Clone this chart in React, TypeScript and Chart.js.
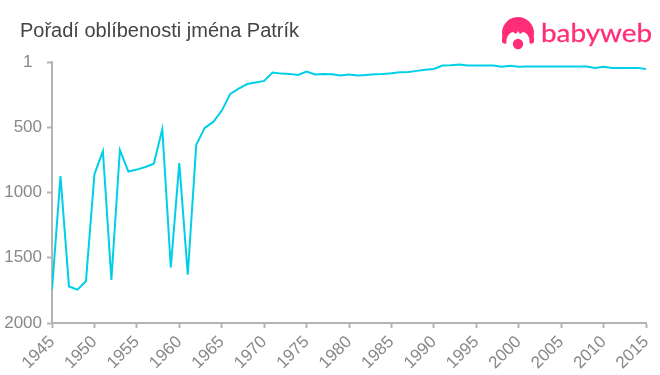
import React, { useEffect, useRef } from "react";
import { Chart, registerables } from "chart.js";

Chart.register(...registerables);

const titleText = "Pořadí oblíbenosti jména Patrík";
const years = [
  1945, 1946, 1947, 1948, 1949, 1950, 1951, 1952, 1953, 1954, 1955, 1956, 1957, 1958,
  1959, 1960, 1961, 1962, 1963, 1964, 1965, 1966, 1967, 1968, 1969, 1970, 1971, 1972,
  1973, 1974, 1975, 1976, 1977, 1978, 1979, 1980, 1981, 1982, 1983, 1984, 1985, 1986,
  1987, 1988, 1989, 1990, 1991, 1992, 1993, 1994, 1995, 1996, 1997, 1998, 1999, 2000,
  2001, 2002, 2003, 2004, 2005, 2006, 2007, 2008, 2009, 2010, 2011, 2012, 2013, 2014,
  2015,
];
const ranks = [
  1745, 875, 1720, 1745, 1680, 860, 685, 1670, 675, 840, 825, 805, 780, 515,
  1575, 775, 1630, 635, 505, 460, 375, 245, 205, 170, 158, 146, 82, 90,
  92, 100, 74, 97, 92, 95, 105, 97, 105, 100, 95, 92, 87, 79,
  77, 69, 61, 54, 28, 26, 20, 28, 28, 28, 28, 38, 30, 38,
  36, 36, 36, 36, 36, 36, 36, 36, 46, 38, 46, 46, 46, 46,
  54,
];
const yTicks = [1, 500, 1000, 1500, 2000];

export default function App() {
  const ref = useRef<HTMLCanvasElement>(null);
  useEffect(() => {
    document.body.style.margin = "0";
    const axisColor = "#b4b4b4";
    const tickFont = { family: "'Liberation Sans', Arial, sans-serif", size: 17 };
    const chart = new Chart(ref.current!, {
      type: "line",
      data: {
        datasets: [
          {
            data: years.map((x, i) => ({ x, y: ranks[i] })),
            borderColor: "#00cfe8",
            borderWidth: 2,
            pointRadius: 0,
            tension: 0,
            fill: false,
          },
        ],
      },
      options: {
        animation: false,
        responsive: false,
        layout: { padding: { top: 62, right: 14, left: 0, bottom: 0 } },
        plugins: { legend: { display: false }, title: { display: false }, tooltip: { enabled: false } },
        scales: {
          x: {
            type: "linear",
            min: 1945,
            max: 2015,
            afterFit: (s: any) => { s.height = 52; s.paddingRight = 0; s.paddingLeft = 0; },
            border: { color: axisColor, width: 2 },
            grid: { drawOnChartArea: false, drawTicks: true, tickLength: 5, color: axisColor, tickWidth: 2 },
            ticks: {
              stepSize: 5,
              maxRotation: 45,
              minRotation: 45,
              color: "#888888",
              font: tickFont,
              padding: 4,
              callback: (v: any) => String(v),
            },
          },
          y: {
            type: "linear",
            reverse: true,
            min: 1,
            max: 2000,
            afterBuildTicks: (s: any) => { s.ticks = yTicks.map((value) => ({ value })); },
            afterFit: (s: any) => { s.width = 52; s.paddingTop = 0; s.paddingBottom = 0; },
            border: { color: axisColor, width: 2 },
            grid: { drawOnChartArea: false, drawTicks: true, tickLength: 5, color: axisColor, tickWidth: 2 },
            ticks: {
              color: "#888888",
              font: tickFont,
              padding: 5,
              callback: (v: any) => (v === 1 ? "1  " : String(v)),
            },
          },
        },
      },
    });
    return () => chart.destroy();
  }, []);

  return (
    <div style={{ position: "relative", width: 660, height: 375, overflow: "hidden" }}>
      <canvas ref={ref} width={660} height={375} style={{ display: "block" }} />
      <div
        style={{
          position: "absolute",
          left: 20,
          top: 19,
          font: "20px 'Liberation Sans', Arial, sans-serif",
          color: "#444444",
          whiteSpace: "nowrap",
        }}
      >
        {titleText}
      </div>
      <svg width={660} height={60} style={{ position: "absolute", left: 0, top: 0 }}>
        <circle cx={518} cy={33} r={16} fill="#ff2d78" />
        <path d="M506 45 C506 38 508 33 513 32 L516 34 L518 31 L520 34 L523 32 C528 33 530 38 530 45 L535 52 L501 52 Z" fill="#fff" />
        <path d="M502 37 L502 42 Q504 45 506.5 43 L506 38 Z M534 37 L534 42 Q532 45 529.5 43 L530 38 Z" fill="#ff2d78" />
        <circle cx={518} cy={44} r={5.2} fill="#ff2d78" />
        <text
          x={541}
          y={42}
          textLength={111}
          lengthAdjust="spacingAndGlyphs"
          fill="#ff2d78"
          stroke="#ff2d78"
          strokeWidth={0.3}
          strokeLinejoin="round"
          style={{ font: "25px Lato, 'Noto Sans', sans-serif" }}
        >
          babyweb
        </text>
      </svg>
    </div>
  );
}
